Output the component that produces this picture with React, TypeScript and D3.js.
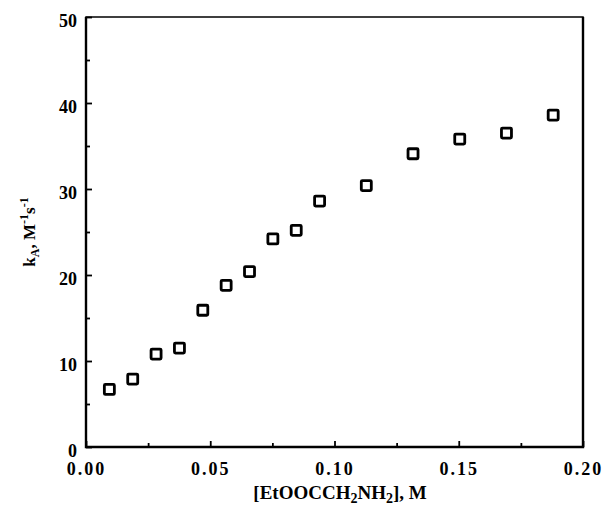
import { useEffect, useRef } from 'react';
import * as d3 from 'd3';

// concentration of glycine ethyl ester, M
const conc = [0.0094, 0.0188, 0.0282, 0.0376, 0.047, 0.0564, 0.0658, 0.0752, 0.0846, 0.094, 0.1128, 0.1316, 0.1504, 0.1692, 0.188];
// k_A, M^-1 s^-1
const kA = [6.7, 7.9, 10.8, 11.5, 15.9, 18.8, 20.4, 24.2, 25.2, 28.6, 30.4, 34.1, 35.8, 36.5, 38.6];

const xTicks = [0, 0.05, 0.1, 0.15, 0.2];
const xMinorTicks = [0.025, 0.075, 0.125, 0.175];
const yTicks = [0, 10, 20, 30, 40, 50];
const yMinorTicks = [5, 15, 25, 35, 45];

const W = 607;
const H = 507;
const margin = { left: 86, right: 24, top: 17, bottom: 60 };
const FONT = '"Liberation Serif", "Times New Roman", serif';

const App = () => {
  const ref = useRef<SVGSVGElement>(null);

  useEffect(() => {
    const svg = d3.select(ref.current);
    svg.selectAll('*').remove();

    const x = d3.scaleLinear().domain([0, 0.2]).range([margin.left, W - margin.right]);
    const y = d3.scaleLinear().domain([0, 50]).range([H - margin.bottom, margin.top]);

    // x axis, ticks pointing inward
    const gx = svg.append('g').attr('transform', `translate(0,${y(0)})`);
    gx.call(
      d3.axisBottom(x).tickValues(xTicks).tickFormat(d3.format('.2f')).tickSizeInner(-6).tickSizeOuter(0).tickPadding(15)
    );
    const gxm = svg.append('g').attr('transform', `translate(0,${y(0)})`);
    gxm.call(d3.axisBottom(x).tickValues(xMinorTicks).tickFormat(() => '').tickSizeInner(-4).tickSizeOuter(0));

    // y axis
    const gy = svg.append('g').attr('transform', `translate(${x(0)},0)`);
    gy.call(d3.axisLeft(y).tickValues(yTicks).tickFormat(d3.format('d')).tickSizeInner(-6).tickSizeOuter(0).tickPadding(9));
    const gym = svg.append('g').attr('transform', `translate(${x(0)},0)`);
    gym.call(d3.axisLeft(y).tickValues(yMinorTicks).tickFormat(() => '').tickSizeInner(-4).tickSizeOuter(0));

    svg.selectAll('.domain').remove();
    svg.selectAll('.tick line').attr('stroke', '#000').attr('stroke-width', 1.8);
    svg
      .selectAll('.tick text')
      .attr('fill', '#000')
      .style('font-family', FONT)
      .style('font-weight', 'bold')
      .style('font-size', '18px');
    gx.selectAll('.tick text').style('letter-spacing', '2px');
    gy.selectAll('.tick text').attr('dy', '0.55em');

    // frame
    svg
      .append('rect')
      .attr('x', x(0))
      .attr('y', y(50))
      .attr('width', x(0.2) - x(0))
      .attr('height', y(0) - y(50))
      .attr('fill', 'none')
      .attr('stroke', '#000')
      .attr('stroke-width', 1.5);
    // heavier left / bottom / right edges
    svg
      .append('path')
      .attr('d', `M${x(0)},${y(50)}V${y(0)}H${x(0.2)}V${y(50)}`)
      .attr('fill', 'none')
      .attr('stroke', '#000')
      .attr('stroke-width', 2.4);

    // open square markers
    const s = 10;
    svg
      .append('g')
      .selectAll('rect')
      .data(conc.map((c, i) => [c, kA[i]]))
      .join('rect')
      .attr('x', (d) => x(d[0]) - s / 2)
      .attr('y', (d) => y(d[1]) - s / 2)
      .attr('width', s)
      .attr('height', s)
      .attr('rx', 1)
      .attr('fill', 'none')
      .attr('stroke', '#000')
      .attr('stroke-width', 2.8);

    // axis titles
    const xt = svg
      .append('text')
      .attr('x', 340)
      .attr('y', 499)
      .attr('text-anchor', 'middle')
      .style('font-family', FONT)
      .style('font-weight', 'bold')
      .style('font-size', '19px');
    xt.append('tspan').text('[EtOOCCH');
    xt.append('tspan').attr('dy', 4).style('font-size', '14px').text('2');
    xt.append('tspan').attr('dy', -4).text('NH');
    xt.append('tspan').attr('dy', 4).style('font-size', '14px').text('2');
    xt.append('tspan').attr('dy', -4).text('], M');

    const yt = svg
      .append('text')
      .attr('transform', `translate(35,${(y(0) + y(50)) / 2}) rotate(-90)`)
      .attr('text-anchor', 'middle')
      .style('font-family', FONT)
      .style('font-weight', 'bold')
      .style('font-size', '17px');
    yt.append('tspan').text('k');
    yt.append('tspan').attr('dy', 4).style('font-size', '12px').text('A');
    yt.append('tspan').attr('dy', -4).text(', M');
    yt.append('tspan').attr('dy', -7).style('font-size', '12px').text('-1');
    yt.append('tspan').attr('dy', 7).text('s');
    yt.append('tspan').attr('dy', -7).style('font-size', '12px').text('-1');
  }, []);

  return (
    <svg
      ref={ref}
      width={W}
      height={H}
      style={{ position: 'absolute', left: 0, top: 0, background: '#fff' }}
    />
  );
};

export default App;
